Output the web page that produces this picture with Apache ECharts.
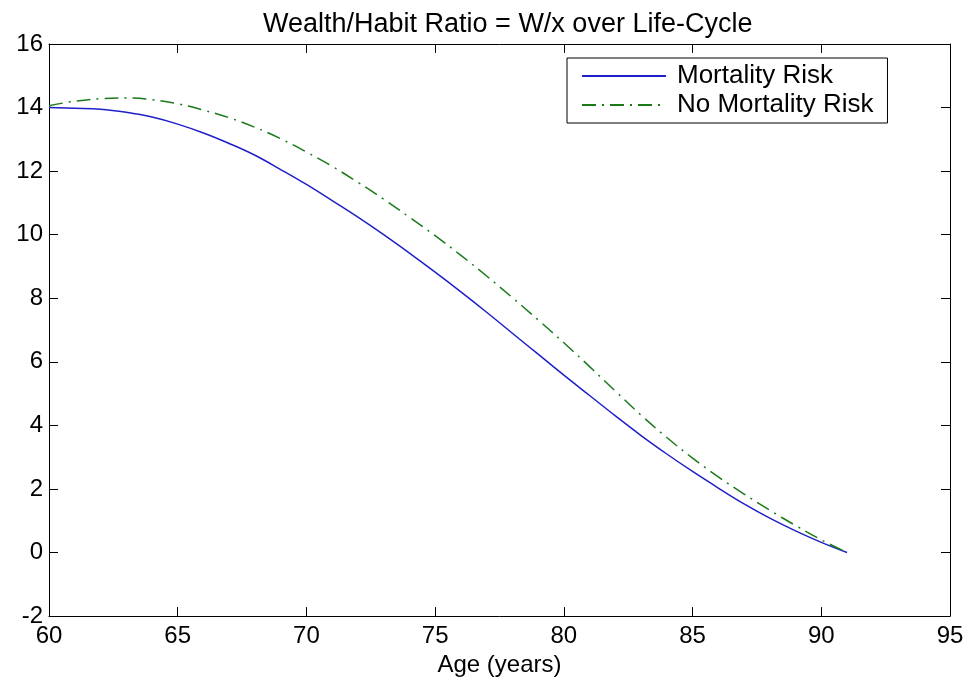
<!DOCTYPE html>
<html>
<head>
<meta charset="utf-8">
<script src="https://cdn.jsdelivr.net/npm/echarts@6/dist/echarts.min.js"></script>
<style>
html,body{margin:0;padding:0;background:#fff;}
#chart{width:974px;height:682px;}
</style>
</head>
<body>
<div id="chart"></div>
<script>
const titleText = 'Wealth/Habit Ratio = W/x over Life-Cycle';
const xAxisName = 'Age (years)';
const seriesNames = ['Mortality Risk', 'No Mortality Risk'];
const ages = [60,61,62,63,64,65,66,67,68,69,70,71,72,73,74,75,76,77,78,79,80,81,82,83,84,85,86,87,88,89,90,91];
const mortality = [14.0,13.98,13.95,13.85,13.7,13.48,13.2,12.87,12.5,12.05,11.58,11.07,10.55,10.0,9.42,8.82,8.2,7.56,6.9,6.24,5.58,4.94,4.3,3.68,3.1,2.55,2.03,1.53,1.08,0.68,0.32,0.0];
const noMortality = [14.06,14.2,14.28,14.3,14.25,14.12,13.92,13.68,13.38,13.02,12.6,12.15,11.65,11.12,10.55,9.97,9.35,8.7,8.02,7.32,6.6,5.85,5.08,4.32,3.62,2.97,2.38,1.84,1.33,0.85,0.4,0.0];
const xTicks = {min: 60, max: 95, interval: 5};
const yTicks = {min: -2, max: 16, interval: 2};

const font = "'Liberation Sans', Arial, sans-serif";
const pairs = (xs, ys) => xs.map((x, i) => [x, ys[i]]);

const chart = echarts.init(document.getElementById('chart'), null, {renderer: 'canvas'});
const axisLine = {show: true, onZero: false, lineStyle: {color: '#000', width: 1}};
const tick = {show: true, inside: true, length: 9, lineStyle: {color: '#000', width: 1}};
chart.setOption({
  animation: false,
  backgroundColor: '#fff',
  title: {
    text: titleText, left: 258, top: 6,
    textStyle: {fontFamily: font, fontSize: 27, fontWeight: 'normal', color: '#000'}
  },
  legend: {
    orient: 'vertical', left: 567, top: 58,
    backgroundColor: '#fff', borderColor: '#000', borderWidth: 1,
    padding: [5, 14, 5, 14], itemGap: 3, itemWidth: 84, itemHeight: 14,
    itemStyle: {opacity: 0},
    textStyle: {fontFamily: font, fontSize: 26, color: '#000', padding: [0, 0, 0, 6]},
    data: seriesNames
  },
  grid: {left: 49, right: 24, top: 44, bottom: 46, containLabel: false},
  xAxis: [
    {type: 'value', position: 'bottom', min: xTicks.min, max: xTicks.max, interval: xTicks.interval,
     name: xAxisName, nameLocation: 'middle', nameGap: 34,
     nameTextStyle: {fontFamily: font, fontSize: 24, color: '#000'},
     axisLine: axisLine, axisTick: tick, splitLine: {show: false},
     axisLabel: {fontFamily: font, fontSize: 24, color: '#000', margin: 8}},
    {type: 'value', position: 'top', min: xTicks.min, max: xTicks.max, interval: xTicks.interval,
     axisLine: axisLine, axisTick: tick, splitLine: {show: false}, axisLabel: {show: false}}
  ],
  yAxis: [
    {type: 'value', position: 'left', min: yTicks.min, max: yTicks.max, interval: yTicks.interval,
     axisLine: axisLine, axisTick: tick, splitLine: {show: false},
     axisLabel: {fontFamily: font, fontSize: 24, color: '#000', margin: 6}},
    {type: 'value', position: 'right', min: yTicks.min, max: yTicks.max, interval: yTicks.interval,
     axisLine: axisLine, axisTick: tick, splitLine: {show: false}, axisLabel: {show: false}}
  ],
  series: [
    {name: seriesNames[0], type: 'line', data: pairs(ages, mortality), symbol: 'none', smooth: 0.4,
     lineStyle: {color: '#1f1fc8', width: 1.5, type: 'solid'}, itemStyle: {color: '#1f1fc8'}},
    {name: seriesNames[1], type: 'line', data: pairs(ages, noMortality), symbol: 'none', smooth: 0.4,
     lineStyle: {color: '#1a7a1a', width: 1.5, type: [14, 6, 2, 6]}, itemStyle: {color: '#1a7a1a'}}
  ]
});
</script>
</body>
</html>
